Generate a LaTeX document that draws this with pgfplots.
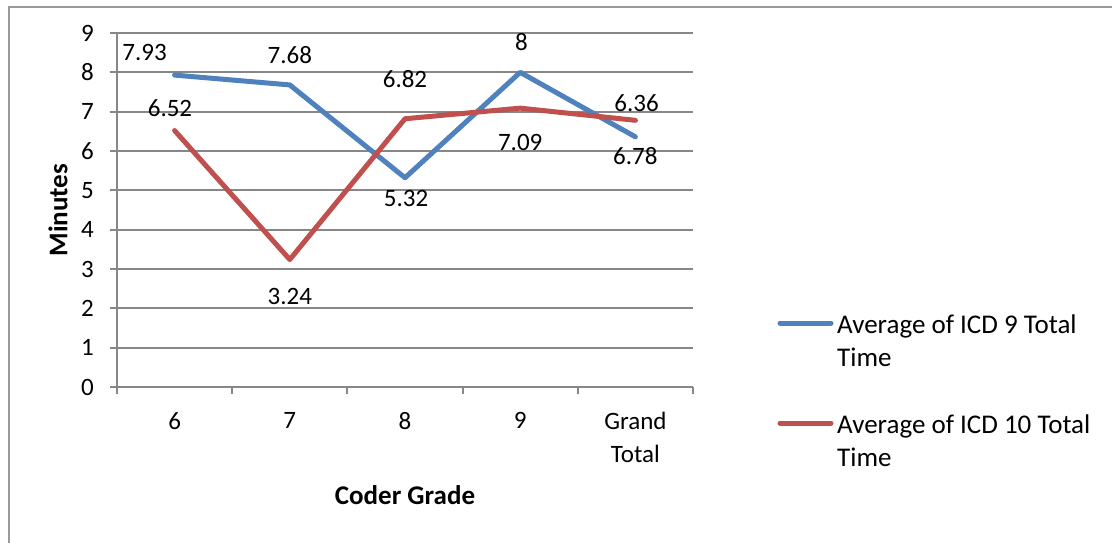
\documentclass[border=0pt]{standalone}
\usepackage{fontspec}
\setmainfont{Carlito}
\usepackage{pgfplots}
\pgfplotsset{compat=1.18}
\definecolor{xlblue}{HTML}{4F81BD}
\definecolor{xlred}{HTML}{C0504D}
\definecolor{xlgrid}{HTML}{878787}
\newcommand{\chartfont}{\fontsize{25}{33}\selectfont}
\newcommand{\legfont}{\fontsize{27}{33}\selectfont}

\begin{document}
\begin{tikzpicture}[x=1pt,y=1pt]
\path[use as bounding box] (-117,-155) rectangle (995,387);
\draw[xlgrid!85, line width=1.5pt] (-108,-170) -- (-108,380) -- (1010,380);
\begin{axis}[
    at={(0pt,0pt)}, anchor=south west,
    scale only axis, width=576pt, height=354pt,
    xmin=-0.5, xmax=4.5, ymin=0, ymax=9,
    axis x line*=bottom, axis y line*=left,
    axis line style={-, xlgrid, line width=2pt},
    ytick={0,...,9},
    xtick={-0.5,0.5,...,4.5}, xticklabels={},
    extra x ticks={0,1,2,3,4},
    extra x tick labels={6,7,8,9,{Grand\\Total}},
    extra x tick style={major tick length=0pt},
    ymajorgrids, grid style={xlgrid, line width=2pt},
    tick style={xlgrid, line width=2pt},
    tick align=outside, major tick length=7pt,
    /pgf/number format/assume math mode=true,
    ticklabel style={font=\chartfont},
    xticklabel style={align=center, inner sep=0pt, anchor=north, yshift=-25pt},
    yticklabel style={inner sep=0pt, anchor=east, xshift=-16pt},
    xlabel={Coder Grade}, ylabel={Minutes},
    every axis x label/.style={at={(axis description cs:0.5,-0.305)}, anchor=center, font=\legfont\bfseries},
    every axis y label/.style={at={(axis description cs:-0.1024,0.5)}, anchor=center, rotate=90, font=\legfont\bfseries},
    clip=false,
]
\addplot[xlblue, line width=5pt, line join=round, line cap=round]
    coordinates {(0,7.93) (1,7.68) (2,5.32) (3,8) (4,6.36)};
\addplot[xlred, line width=5pt, line join=round, line cap=round]
    coordinates {(0,6.52) (1,3.24) (2,6.82) (3,7.09) (4,6.78)};

% data labels as placed by the spreadsheet
\begin{scope}[every node/.style={font=\chartfont, inner sep=0pt}]
\node at (axis cs:-0.26,8.50) {7.93};
\node at (axis cs:1.00,8.44) {7.68};
\node at (axis cs:2.01,4.80) {5.32};
\node at (axis cs:3.01,8.77) {8};
\node at (axis cs:4.01,7.22) {6.36};
\node at (axis cs:-0.04,7.09) {6.52};
\node at (axis cs:1.00,2.31) {3.24};
\node at (axis cs:2.00,7.83) {6.82};
\node at (axis cs:3.00,6.22) {7.09};
\node at (axis cs:4.00,5.87) {6.78};
\end{scope}
\end{axis}

% legend
\draw[xlblue, line width=5pt, line cap=round] (663,64) -- (714,64);
\node[anchor=base west, inner sep=0pt, font=\legfont] at (720,54) {Average of ICD 9 Total};
\node[anchor=base west, inner sep=0pt, font=\legfont] at (720,21) {Time};
\draw[xlred, line width=5pt, line cap=round] (663,-36) -- (714,-36);
\node[anchor=base west, inner sep=0pt, font=\legfont] at (720,-46) {Average of ICD 10 Total};
\node[anchor=base west, inner sep=0pt, font=\legfont] at (720,-79) {Time};
\end{tikzpicture}
\end{document}
